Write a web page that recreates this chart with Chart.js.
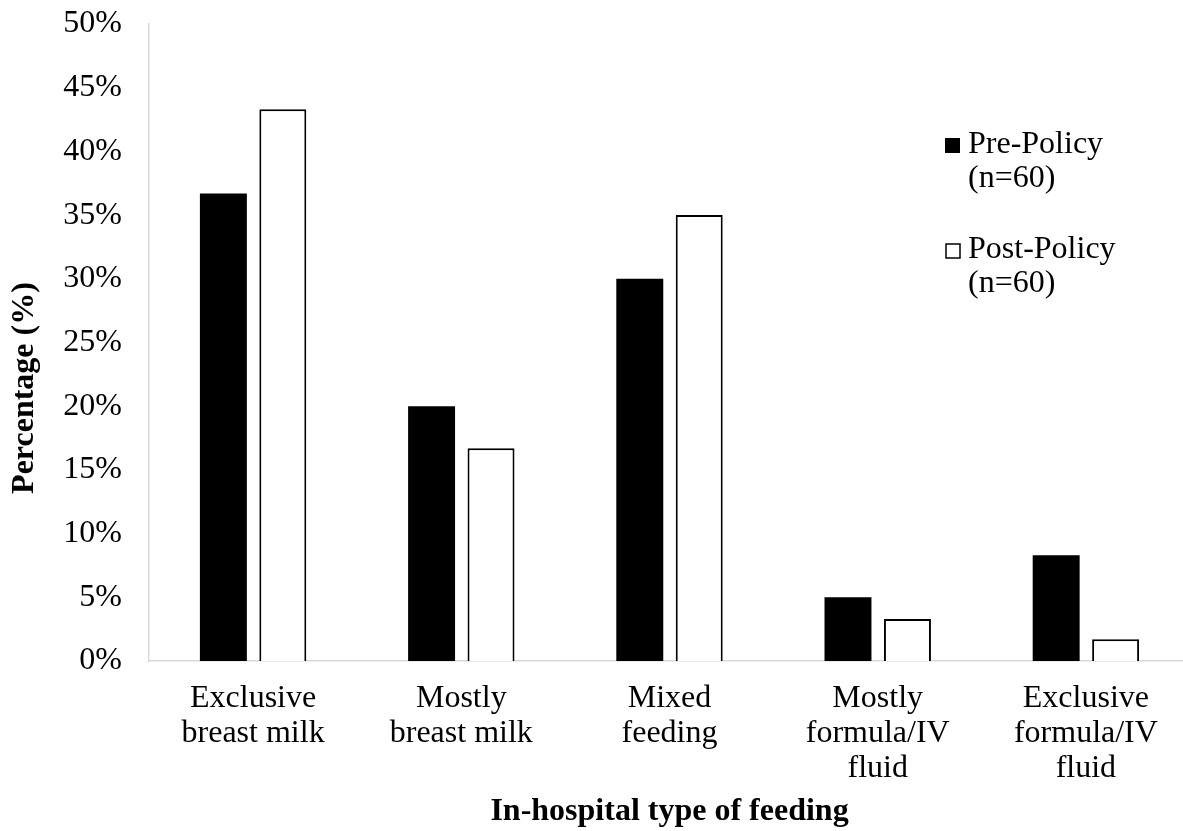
<!DOCTYPE html>
<html>
<head>
<meta charset="utf-8">
<script src="https://cdn.jsdelivr.net/npm/chart.js@4.4.0/dist/chart.umd.min.js"></script>
<style>
  html, body { margin: 0; padding: 0; background: #fff; overflow: hidden; }
  #feedChart { display: block; }
</style>
</head>
<body>
<!-- plot runs a few px past the right edge, like the original -->
<canvas id="feedChart" width="1190" height="831"></canvas>
<script>
const categories = [
  ["Exclusive", "breast milk"],
  ["Mostly", "breast milk"],
  ["Mixed", "feeding"],
  ["Mostly", "formula/IV", "fluid"],
  ["Exclusive", "formula/IV", "fluid"]
];
const prePolicy = [36.7, 20.0, 30.0, 5.0, 8.3];
const postPolicy = [43.3, 16.7, 35.0, 3.3, 1.7];
const seriesNames = [["Pre-Policy", "(n=60)"], ["Post-Policy", "(n=60)"]];
const yTicks = [0, 5, 10, 15, 20, 25, 30, 35, 40, 45, 50];

const FONT = "'Liberation Serif', 'Times New Roman', serif";
const AXIS = "#d9d9d9";

// legend + y title drawn by hand (two-line legend entries)
const extras = {
  id: "extras",
  afterDraw(chart) {
    const ctx = chart.ctx;
    ctx.save();
    ctx.fillStyle = "#000";

    ctx.font = `bold 32px ${FONT}`;
    ctx.textAlign = "center";
    ctx.textBaseline = "alphabetic";
    ctx.translate(33, 388);
    ctx.rotate(-Math.PI / 2);
    ctx.fillText("Percentage (%)", 0, 0);
    ctx.setTransform(1, 0, 0, 1, 0, 0);

    ctx.font = `32px ${FONT}`;
    ctx.textAlign = "left";
    const rows = [153, 258];
    chart.data.datasets.forEach((ds, i) => {
      const base = rows[i];
      if (ds.backgroundColor === "#000") {
        ctx.fillStyle = "#000";
        ctx.fillRect(945, base - 15, 15, 15);
      } else {
        ctx.strokeStyle = "#000";
        ctx.lineWidth = 1.5;
        ctx.strokeRect(946, base - 14, 14, 14);
      }
      ctx.fillStyle = "#000";
      seriesNames[i].forEach((line, j) => ctx.fillText(line, 968, base + j * 34));
    });
    ctx.restore();
  }
};

new Chart(document.getElementById("feedChart"), {
  type: "bar",
  data: {
    labels: categories,
    datasets: [
      {
        label: seriesNames[0].join(" "),
        data: prePolicy,
        backgroundColor: "#000",
        borderColor: "#000",
        borderWidth: 0,
        categoryPercentage: 0.571,
        barPercentage: 0.79
      },
      {
        label: seriesNames[1].join(" "),
        data: postPolicy,
        backgroundColor: "#fff",
        borderColor: "#000",
        borderWidth: 2,
        categoryPercentage: 0.571,
        barPercentage: 0.79
      }
    ]
  },
  options: {
    responsive: false,
    animation: false,
    devicePixelRatio: 1,
    layout: { padding: { top: 24, right: 0, bottom: 0, left: 0 } },
    plugins: {
      legend: { display: false },
      tooltip: { enabled: false }
    },
    scales: {
      x: {
        grid: { display: false, drawTicks: false },
        border: { color: AXIS, width: 1.5 },
        ticks: {
          color: "#000",
          padding: 20,
          maxRotation: 0,
          autoSkip: false,
          font: { family: FONT, size: 32, lineHeight: 1.1 }
        },
        title: {
          display: true,
          text: "In-hospital type of feeding",
          color: "#000",
          padding: { top: 0, bottom: 0 },
          font: { family: FONT, size: 32, weight: "bold", lineHeight: 1.2 }
        },
        afterFit: s => { s.height = 170; s.paddingLeft = 0; s.paddingRight = 0; }
      },
      y: {
        min: 0,
        max: 50,
        grid: { display: false, drawTicks: false },
        border: { color: AXIS, width: 1.5 },
        afterBuildTicks: s => { s.ticks = yTicks.map(v => ({ value: v })); },
        ticks: {
          color: "#000",
          padding: 27,
          callback: v => v + "%",
          font: { family: FONT, size: 32 }
        },
        afterFit: s => { s.width = 149; s.paddingTop = 0; s.paddingBottom = 0; }
      }
    }
  },
  plugins: [extras]
});
</script>
</body>
</html>
